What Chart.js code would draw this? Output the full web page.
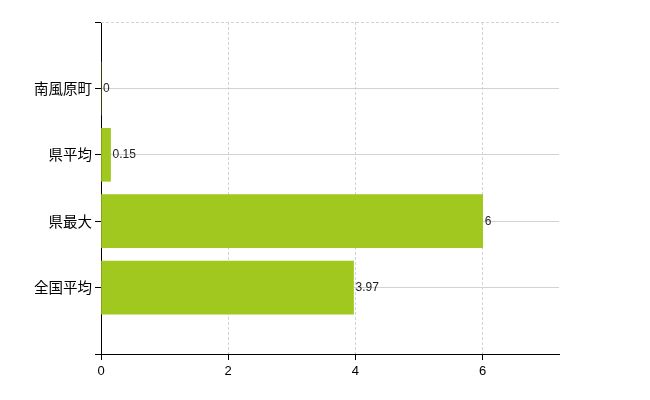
<!DOCTYPE html>
<html>
<head>
<meta charset="utf-8">
<script src="https://cdn.jsdelivr.net/npm/chart.js@4/dist/chart.umd.min.js"></script>
<style>
  html, body { margin: 0; padding: 0; background: #fff; }
  #wrap { width: 650px; height: 400px; }
</style>
</head>
<body>
<div id="wrap"><canvas id="chartCanvas"></canvas></div>
<script>
// Datos (las posiciones vacías dejan hueco arriba y abajo)
const categories = ['', '南風原町', '県平均', '県最大', '全国平均', ''];
const values = [null, 0, 0.15, 6, 3.97, null];
const xTicks = [0, 2, 4, 6];
const xMax = 7.2;

const barColor = '#a0c81e';
const gridColor = '#d3d3d3';
const cjkFont = '"Noto Sans CJK JP", "Noto Sans", sans-serif';

// Etiquetas de valor al final de cada barra
const valueLabels = {
    id: 'valueLabels',
    afterDatasetsDraw(chart) {
        const ctx = chart.ctx;
        const meta = chart.getDatasetMeta(0);
        ctx.save();
        ctx.font = '12px "Liberation Sans", Arial, sans-serif';
        ctx.fillStyle = '#222';
        ctx.textAlign = 'left';
        ctx.textBaseline = 'middle';
        meta.data.forEach((bar, i) => {
            const v = values[i];
            if (v === null || v === undefined) return;
            ctx.fillText(String(v), bar.x + 2, bar.y);
        });
        ctx.restore();
    }
};

// Línea superior punteada
const topLine = {
    id: 'topLine',
    beforeDatasetsDraw(chart) {
        const a = chart.chartArea;
        const ctx = chart.ctx;
        ctx.save();
        ctx.strokeStyle = gridColor;
        ctx.lineWidth = 1;
        ctx.setLineDash([3, 2]);
        ctx.beginPath();
        ctx.moveTo(a.left, Math.round(a.top) + 0.5);
        ctx.lineTo(a.right, Math.round(a.top) + 0.5);
        ctx.stroke();
        ctx.restore();
    }
};

new Chart(document.getElementById('chartCanvas'), {
    type: 'bar',
    data: {
        labels: categories,
        datasets: [{
            data: values,
            backgroundColor: barColor,
            borderWidth: 0,
            barThickness: 53
        }]
    },
    options: {
        indexAxis: 'y',
        responsive: true,
        maintainAspectRatio: false,
        animation: false,
        layout: { padding: { top: 22, right: 91, bottom: 0, left: 0 } },
        plugins: {
            legend: { display: false },
            tooltip: { enabled: false }
        },
        scales: {
            x: {
                type: 'linear',
                min: 0,
                max: xMax,
                afterFit(scale) { scale.height = 46; },
                afterBuildTicks(scale) { scale.ticks = xTicks.map(v => ({ value: v })); },
                ticks: {
                    includeBounds: false,
                    color: '#000',
                    font: { size: 13, family: '"Liberation Sans", Arial, sans-serif' },
                    padding: 4
                },
                grid: {
                    color: gridColor,
                    tickColor: '#000',
                    tickLength: 6
                },
                border: { color: '#000', width: 1, dash: [3, 2] }
            },
            y: {
                type: 'category',
                offset: false,
                afterFit(scale) { scale.width = 101; },
                ticks: {
                    color: '#000',
                    font: { size: 14.5, family: cjkFont },
                    padding: 3,
                    autoSkip: false
                },
                grid: {
                    offset: false,
                    color: ctx => (ctx.index === 0 || ctx.index === 5) ? 'rgba(0,0,0,0)' : gridColor,
                    tickColor: '#000',
                    tickLength: 6
                },
                border: { color: '#000', width: 1 }
            }
        }
    },
    plugins: [valueLabels, topLine]
});
</script>
</body>
</html>
